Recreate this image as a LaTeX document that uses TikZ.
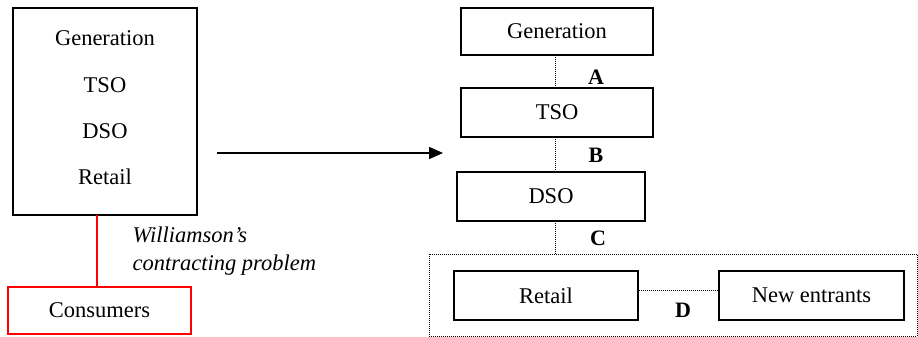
\documentclass[tikz,border=0pt]{standalone}
\usepackage{fontspec}
\setmainfont{Liberation Serif}
\usetikzlibrary{arrows.meta}
\begin{document}
\begin{tikzpicture}[x=1pt,y=-1pt,
  every node/.style={font=\fontsize{22.5}{26}\selectfont},
  box/.style={draw=black,line width=1.5pt,rectangle,inner sep=0pt},
  dotline/.style={draw=black,line width=1pt,dash pattern=on 1pt off 1pt},
  lbl/.style={font=\fontsize{22}{26}\selectfont\bfseries}]
\useasboundingbox (0,0) rectangle (918,337);
% integrated utility (left)
\node[box,minimum width=184pt,minimum height=207pt] (old) at (105,111.5) {};
\node (og) at (105,38) {Generation};
\node (ot) at (105,85) {TSO};
\node (od) at (105,131) {DSO};
\node (or) at (105,177) {Retail};
\node[draw=red,line width=1.5pt,minimum width=183pt,minimum height=47pt,inner sep=0pt] (cons) at (99.5,310.5) {Consumers};
\draw[red,line width=1.5pt] (97,215) -- (97,287);
\node[anchor=west,align=left,font=\fontsize{22.5}{28}\selectfont\itshape] (will) at (129,251) {Williamson’s\\contracting problem};
% transition arrow
\coordinate (as) at (217,153);
\coordinate (ae) at (443,153);
\draw[line width=1.5pt,-{Triangle[length=14pt,width=12pt]}] (as) -- (ae);
% unbundled structure (right)
\node[box,minimum width=192pt,minimum height=47pt] (gen) at (557,31.5) {Generation};
\node[box,minimum width=192pt,minimum height=49pt] (tso) at (557,112.5) {TSO};
\node[box,minimum width=188pt,minimum height=49pt] (dso) at (551,196.5) {DSO};
\draw[dotline] (555,55) -- (555,88);
\draw[dotline] (555,137) -- (555,172);
\node[lbl] (la) at (596,77) {A};
\node[lbl] (lb) at (596,155) {B};
\node[draw=black,line width=1pt,dash pattern=on 1pt off 1pt,minimum width=488pt,minimum height=82pt,inner sep=0pt] (grp) at (673,295) {};
\draw[dotline] (555,221) -- (555,254);
\node[lbl] (lc) at (598,238) {C};
\node[box,minimum width=184pt,minimum height=49pt] (ret) at (546,295.5) {Retail};
\node[box,minimum width=185pt,minimum height=49pt] (new) at (811.5,295.5) {New entrants};
\draw[dotline] (ret.east |- 0,290) -- (new.west |- 0,290);
\node[lbl] (ld) at (683,310) {D};
\end{tikzpicture}
\end{document}
